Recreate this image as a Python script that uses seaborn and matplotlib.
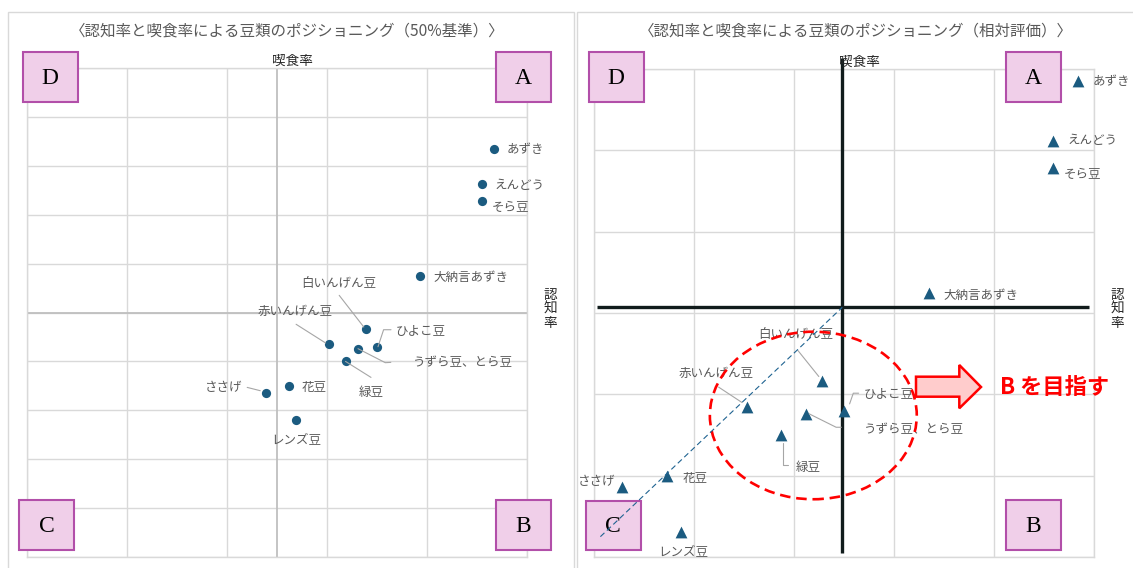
import numpy as np
import pandas as pd
import matplotlib
matplotlib.use("Agg")
import matplotlib.pyplot as plt
import seaborn as sns
from matplotlib.patches import Rectangle, Ellipse, Polygon
from matplotlib.lines import Line2D

# ---- data -------------------------------------------------------------
beans = ["あずき", "えんどう", "そら豆", "大納言あずき", "白いんげん豆", "赤いんげん豆",
         "ひよこ豆", "うずら豆、とら豆", "緑豆", "花豆", "ささげ", "レンズ豆"]
awareness = [93.4, 90.9, 90.9, 78.5, 67.8, 60.3, 70.0, 66.2, 63.7, 52.3, 47.8, 53.7]   # 認知率 (%)
eaten = [83.5, 76.2, 72.8, 57.4, 46.7, 43.5, 43.0, 42.6, 40.0, 34.9, 33.6, 28.1]       # 喫食率 (%)

# reference lines of the relative chart (crossing point)
rel_cross_x = 69.8
rel_cross_y = 55.7

df = pd.DataFrame({"豆": beans, "認知率": awareness, "喫食率": eaten})

# ---- styling ----------------------------------------------------------
sns.set_theme(style="white")
plt.rcParams["font.family"] = ["Noto Sans CJK JP", "DejaVu Sans"]

W, H = 1133, 568
fig = plt.figure(figsize=(W / 100, H / 100), dpi=100)
fig.patch.set_facecolor("white")

GRID = "#d9d9d9"
TXT = "#595959"
MARK = "#1b5b80"


def fx(px):
    return px / W


def fy(py):
    return 1 - py / H


def axes_px(l, t, r, b):
    return fig.add_axes([l / W, 1 - b / H, (r - l) / W, (b - t) / H])


def style_axes(ax, xt, yt):
    ax.set_xticks(xt)
    ax.set_yticks(yt)
    ax.set_xlim(xt[0], xt[-1])
    ax.set_ylim(yt[0], yt[-1])
    ax.tick_params(length=0, labelbottom=False, labelleft=False)
    ax.grid(True, color=GRID, lw=1)
    ax.set_axisbelow(True)
    for s in ax.spines.values():
        s.set_color(GRID)
        s.set_linewidth(1)
    ax.set_xlabel("")
    ax.set_ylabel("")


def data_to_fig(ax, pts):
    disp = ax.transData.transform(np.asarray(pts, dtype=float))
    return fig.transFigure.inverted().transform(disp)


def put_labels(ax, spec, leaders):
    for name, x, y in zip(beans, awareness, eaten):
        dx, dy, ha = spec[name]
        ax.annotate(name, xy=(x, y), xytext=(dx, dy), textcoords="offset pixels",
                    ha=ha, va="center", fontsize=9, color=TXT)
        if name in leaders:
            base = ax.transData.transform((x, y))
            pts = base + np.array(leaders[name], dtype=float)
            fpts = fig.transFigure.inverted().transform(pts)
            fig.add_artist(Line2D(fpts[:, 0], fpts[:, 1], color="#a6a6a6", lw=0.8))


def quad_box(letter, l, t, r, b):
    fig.add_artist(Rectangle((fx(l), fy(b)), fx(r) - fx(l), fy(t) - fy(b),
                             transform=fig.transFigure, facecolor="#f0cfe9",
                             edgecolor="#b24fa9", lw=1.5, zorder=5))
    fig.text(fx((l + r) / 2), fy((t + b) / 2 + 1), letter, ha="center", va="center",
             fontsize=17, family="Liberation Serif", color="black", zorder=6)


# panel frames
for l, r in [(8, 573.5), (576.5, 1140)]:
    fig.add_artist(Rectangle((fx(l), fy(571)), fx(r) - fx(l), fy(12) - fy(571),
                             transform=fig.transFigure, fill=False, edgecolor=GRID, lw=1))

# ---- left chart : 50% baseline ----------------------------------------
ax1 = axes_px(27, 68, 527, 557)
sns.scatterplot(data=df, x="認知率", y="喫食率", ax=ax1, color=MARK, s=44,
                marker="o", linewidth=0, zorder=4)
style_axes(ax1, np.arange(0, 101, 20), np.arange(0, 101, 10))
ax1.axvline(50, color="#bfbfbf", lw=1.3, zorder=2)
ax1.axhline(50, color="#bfbfbf", lw=1.3, zorder=2)

left_spec = {
    "あずき": (12.5, -1, "left"), "えんどう": (13.5, -1, "left"), "そら豆": (10, -6.3, "left"),
    "大納言あずき": (14, -1, "left"), "白いんげん豆": (-27.3, 45.6, "center"),
    "赤いんげん豆": (-33, 33, "center"), "ひよこ豆": (18.6, 15.3, "left"),
    "うずら豆、とら豆": (54.5, -14.4, "left"), "緑豆": (25.8, -31, "center"),
    "花豆": (13.4, -1.3, "left"), "ささげ": (-24, 4.7, "right"), "レンズ豆": (1.2, -19.7, "center"),
}
left_leaders = {
    "白いんげん豆": [(-26.8, 33.3), (-2.2, 1.6)],
    "赤いんげん豆": [(-32.4, 20), (-2.9, 1.3)],
    "ひよこ豆": [(14, 17), (6.6, 17), (1, 0)],
    "うずら豆、とら豆": [(0, 0), (27.3, -14), (32.8, -13.7)],
    "緑豆": [(0, 0), (25.5, -16)],
    "ささげ": [(-18.8, 5.3), (-5.8, 2)],
}
put_labels(ax1, left_spec, left_leaders)

fig.text(fx(287.5), fy(31), "〈認知率と喫食率による豆類のポジショニング（50%基準）〉",
         ha="center", va="center", fontsize=11.2, color=TXT)
fig.text(fx(292), fy(61), "喫食率", ha="center", va="center", fontsize=9.8, color="#262626")
fig.text(fx(550), fy(309), "認\n知\n率", ha="center", va="center", fontsize=9.8,
         color="#262626", linespacing=1.0)

quad_box("D", 22.5, 52, 77.5, 102)
quad_box("A", 496, 52, 551, 102)
quad_box("C", 19.3, 500, 74, 550)
quad_box("B", 496, 500, 551, 550)

# ---- right chart : relative evaluation --------------------------------
ax2 = axes_px(594.4, 69, 1094.2, 557)
sns.scatterplot(data=df, x="認知率", y="喫食率", ax=ax2, color=MARK, s=72,
                marker="^", linewidth=0, zorder=4)
style_axes(ax2, np.arange(45, 96, 10), np.arange(25, 86, 10))

# bold crossing lines
ax2.plot([rel_cross_x, rel_cross_x], [86.35, 25.5], color="#111c1c", lw=2.4,
         clip_on=False, zorder=3, solid_capstyle="butt")
ax2.plot([45.3, 94.5], [rel_cross_y, rel_cross_y], color="#111c1c", lw=2.4,
         clip_on=False, zorder=3, solid_capstyle="butt")
# target group
ax2.add_patch(Ellipse((66.9, 42.4), 20.7, 20.6, fill=False, edgecolor="red",
                      lw=1.9, ls=(0, (4, 2.2)), zorder=6))

right_spec = {
    "あずき": (14.8, 0, "left"), "えんどう": (14.3, 0, "left"), "そら豆": (10.8, -6.6, "left"),
    "大納言あずき": (14.1, -1.6, "left"), "白いんげん豆": (-26.6, 45.7, "center"),
    "赤いんげん豆": (-31.4, 32.7, "center"), "ひよこ豆": (19.7, 15.7, "left"),
    "うずら豆、とら豆": (57.8, -15.7, "left"), "緑豆": (26.4, -32.7, "center"),
    "花豆": (15.3, -1.6, "left"), "ささげ": (-25.4, 6, "center"), "レンズ豆": (2.3, -20, "center"),
}
right_leaders = {
    "白いんげん豆": [(-24.4, 30), (-3.5, 4)],
    "赤いんげん豆": [(-28.7, 19.4), (-5.3, 4)],
    "ひよこ豆": [(14.3, 17.4), (9, 17.4), (5.3, 6.7)],
    "うずら豆、とら豆": [(2.9, 0), (29.8, -13.4), (35.1, -13.4)],
    "緑豆": [(1.8, -8), (1.8, -30), (7.1, -30)],
}
put_labels(ax2, right_spec, right_leaders)

fig.text(fx(855.5), fy(31), "〈認知率と喫食率による豆類のポジショニング（相対評価）〉",
         ha="center", va="center", fontsize=11.2, color=TXT)
fig.text(fx(859), fy(62), "喫食率", ha="center", va="center", fontsize=9.8, color="#262626")
fig.text(fx(1117), fy(309), "認\n知\n率", ha="center", va="center", fontsize=9.8,
         color="#262626", linespacing=1.0)

quad_box("D", 588.7, 52, 643.6, 102)
quad_box("A", 1006, 52, 1061, 102)
quad_box("C", 585.7, 500.7, 640.7, 550)
quad_box("B", 1006, 500, 1061, 550)

# diagonal guide from quadrant C to the crossing point, drawn above the boxes
diag = data_to_fig(ax2, [(45.6, 27.5), (rel_cross_x, rel_cross_y)])
fig.add_artist(Line2D(diag[:, 0], diag[:, 1], color="#1f6391", lw=0.8,
                      ls=(0, (5, 3)), zorder=7))

# arrow and target message
arrow_px = [(916, 376.7), (959.3, 376.7), (959.3, 365), (981, 387), (959.3, 408.3),
            (959.3, 396.7), (916, 396.7)]
fig.add_artist(Polygon([(fx(x), fy(y)) for x, y in arrow_px], closed=True,
                       transform=fig.transFigure, facecolor="#ffcccc",
                       edgecolor="red", lw=1.8, zorder=8))
fig.text(fx(1000), fy(388), "B を目指す", ha="left", va="center", fontsize=16,
         fontweight="bold", color="red", zorder=8)

fig.savefig("out.png", dpi=100)
